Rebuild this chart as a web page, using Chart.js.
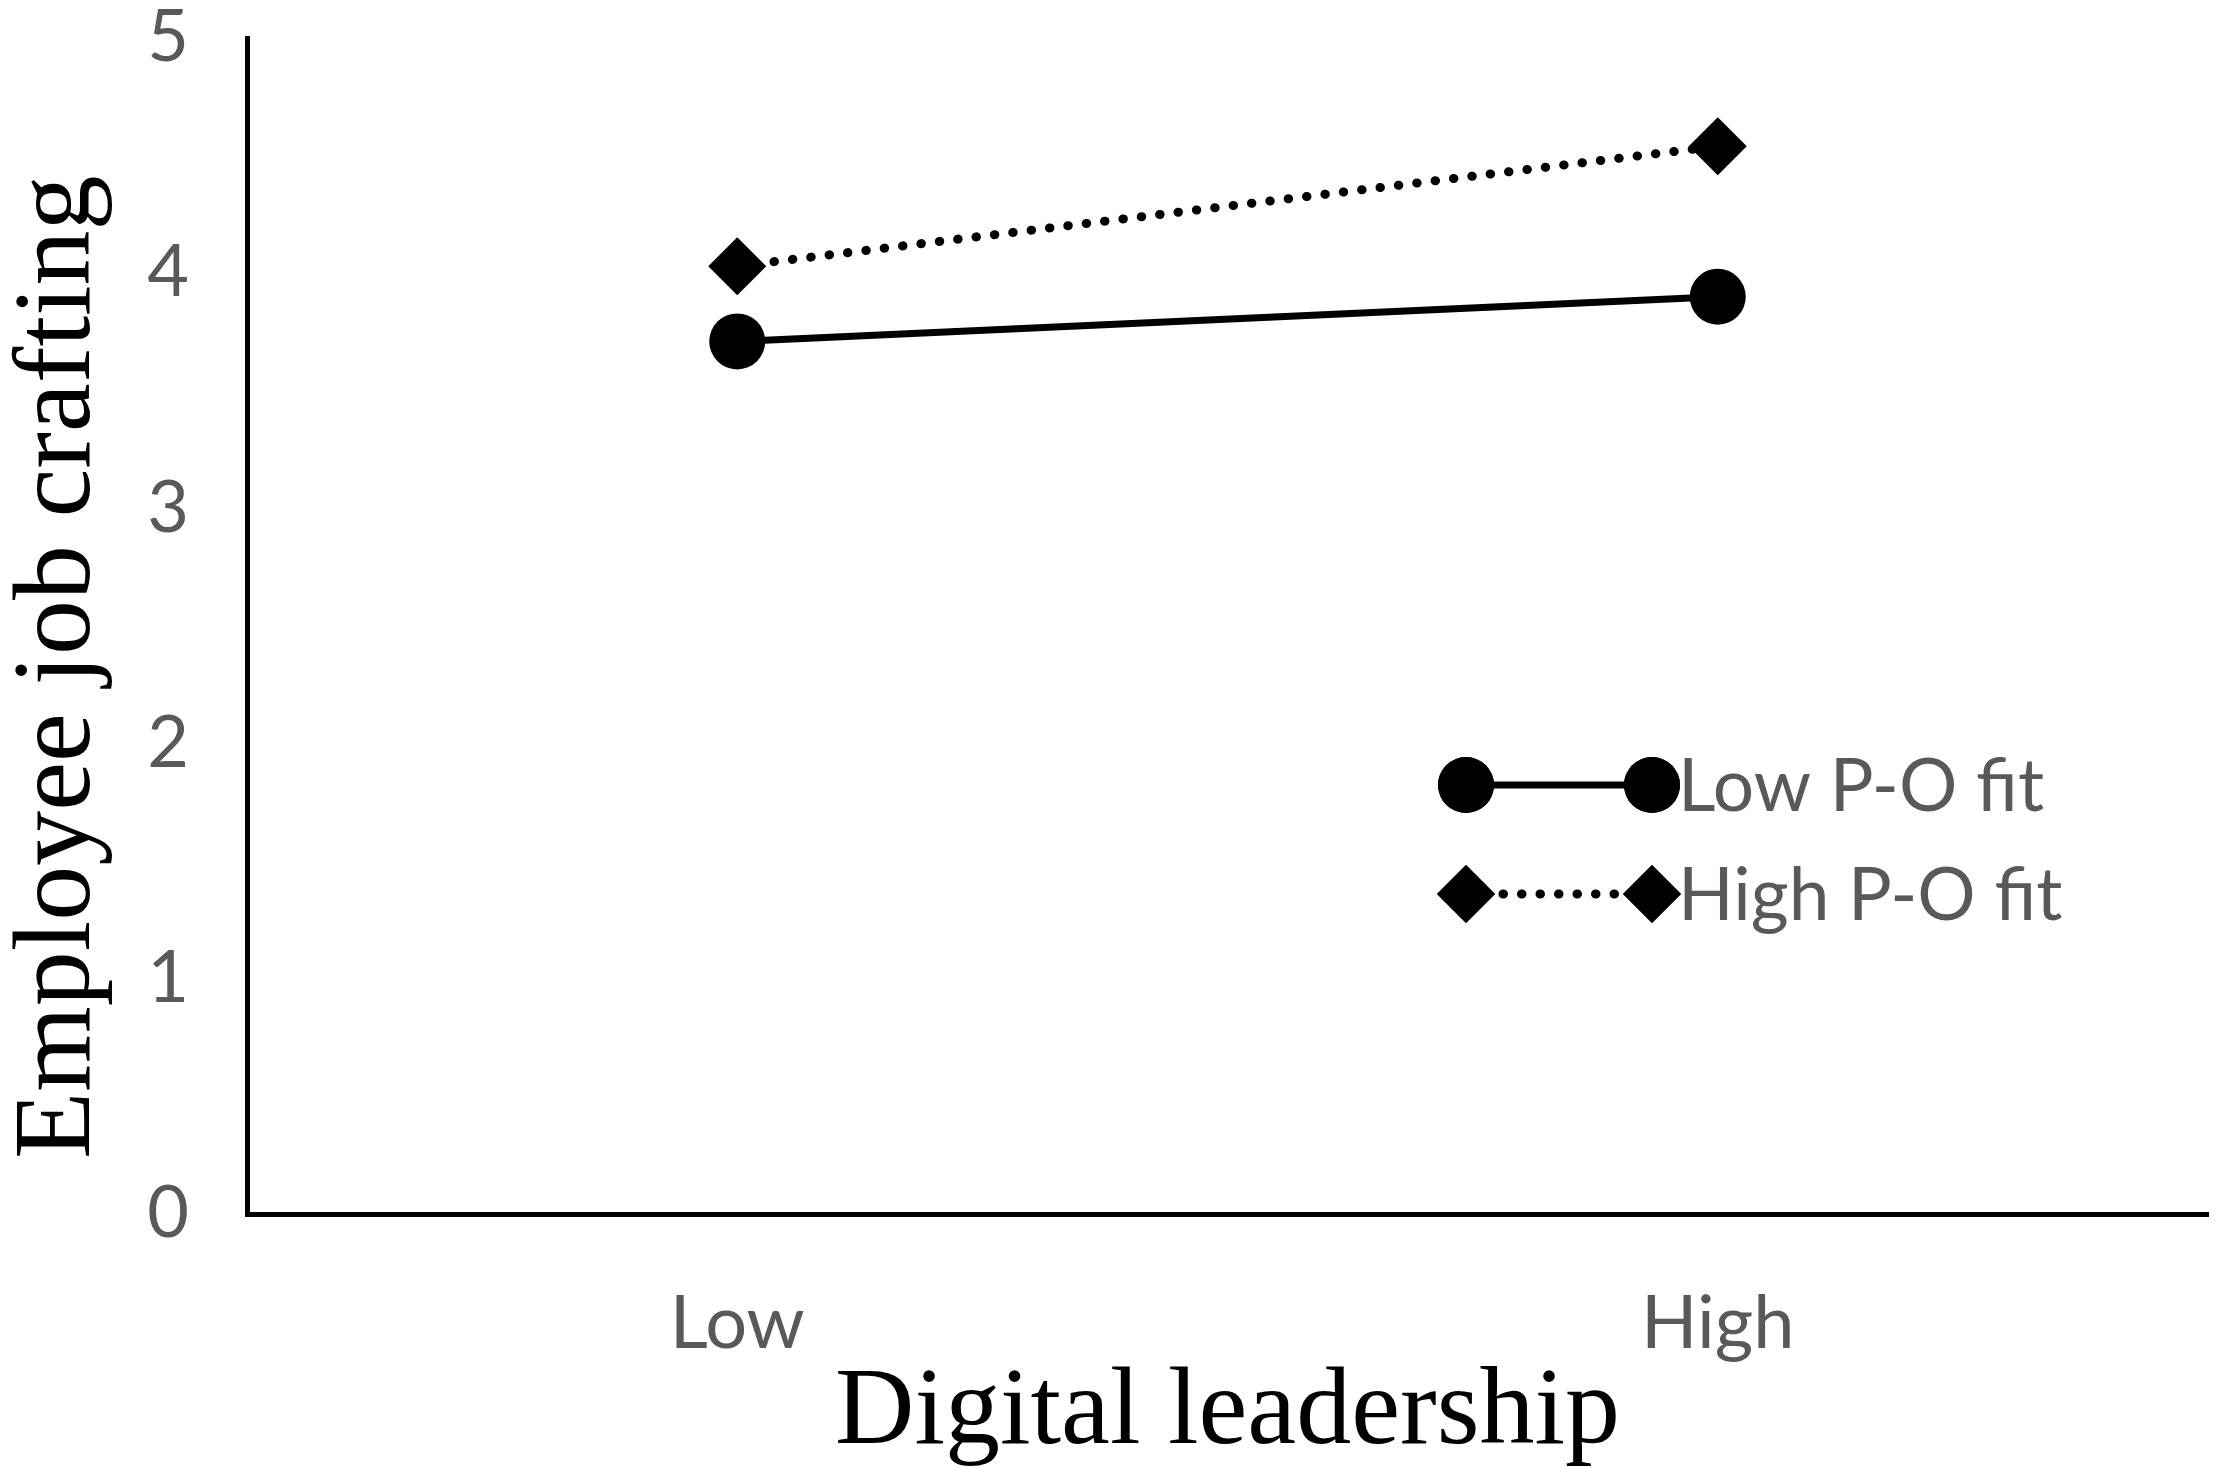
<!DOCTYPE html>
<html>
<head>
<meta charset="utf-8">
<script src="https://cdn.jsdelivr.net/npm/chart.js@4"></script>
<style>
  body { margin: 0; background: #fff; }
  canvas { display: block; }
</style>
</head>
<body>
<canvas id="myChart" width="2217" height="1468"></canvas>
<script>
const categories = ['Low', 'High'];
const seriesNames = ['Low P-O fit', 'High P-O fit'];
const lowFit = [3.71, 3.90];
const highFit = [4.03, 4.54];
const yMin = 0;
const yMax = 5;
const yStep = 1;

const TICK_GREY = '#595959';

// legend drawn by hand: a short line with a marker at each end, then the name
const legendPlugin = {
  id: 'lineLegend',
  afterDraw(chart) {
    const ctx = chart.ctx;
    const rows = [785, 894];
    const x1 = 1466, x2 = 1652, textX = 1678;
    chart.data.datasets.forEach((ds, i) => {
      const y = rows[i];
      ctx.save();
      ctx.strokeStyle = ds.borderColor;
      ctx.lineWidth = ds.borderWidth;
      ctx.lineCap = ds.borderCapStyle || 'butt';
      ctx.setLineDash(ds.borderDash || []);
      ctx.beginPath();
      ctx.moveTo(x1, y);
      ctx.lineTo(x2, y);
      ctx.stroke();
      ctx.setLineDash([]);
      [x1, x2].forEach(x => {
        Chart.helpers.drawPoint(ctx, {
          pointStyle: ds.pointStyle,
          radius: ds.pointRadius,
          borderWidth: 0
        }, x, y);
        ctx.fillStyle = ds.pointBackgroundColor;
        ctx.fill();
      });
      ctx.fillStyle = TICK_GREY;
      ctx.font = '73px Lato';
      ctx.textBaseline = 'middle';
      ctx.fillText(ds.label, textX, y + 2);
      ctx.restore();
    });
  }
};

const config = {
  type: 'line',
  data: {
    labels: categories,
    datasets: [
      {
        label: seriesNames[0],
        data: lowFit,
        borderColor: '#000',
        borderWidth: 7,
        pointStyle: 'circle',
        pointRadius: 28,
        pointBackgroundColor: '#000',
        pointBorderWidth: 0
      },
      {
        label: seriesNames[1],
        data: highFit,
        borderColor: '#000',
        borderWidth: 9,
        borderDash: [0.5, 18],
        borderCapStyle: 'round',
        pointStyle: 'rectRot',
        pointRadius: 29,
        pointBackgroundColor: '#000',
        pointBorderWidth: 0
      }
    ]
  },
  options: {
    responsive: false,
    animation: false,
    layout: { autoPadding: false, padding: { top: 38, right: 9, left: 0, bottom: 0 } },
    plugins: {
      legend: { display: false },
      tooltip: { enabled: false }
    },
    scales: {
      x: {
        offset: true,
        grid: { display: false, drawTicks: false },
        border: { display: true, color: '#000', width: 5 },
        ticks: {
          color: TICK_GREY,
          font: { family: 'Lato', size: 74 },
          padding: 66
        },
        title: {
          display: true,
          text: 'Digital leadership',
          color: '#000',
          font: { family: 'Liberation Serif', size: 110 },
          padding: { top: 0, bottom: -12 }
        },
        afterFit(scale) {
          scale.height = 254;
          scale.paddingLeft = 0;
          scale.paddingRight = 0;
        }
      },
      y: {
        min: yMin,
        max: yMax,
        grid: { display: false, drawTicks: false },
        border: { display: true, color: '#000', width: 5 },
        ticks: {
          stepSize: yStep,
          color: TICK_GREY,
          font: { family: 'Lato', size: 72 },
          padding: 58
        },
        title: {
          display: true,
          // trailing no-break spaces nudge the rotated title a little lower
          text: 'Employee job crafting\u00a0\u00a0\u00a0',
          color: '#000',
          font: { family: 'Liberation Serif', size: 110 },
          padding: { top: -6, bottom: 0 }
        },
        afterFit(scale) {
          scale.width = 247;
          scale.paddingTop = 0;
          scale.paddingBottom = 0;
        }
      }
    }
  },
  plugins: [legendPlugin]
};

const myChart = new Chart(document.getElementById('myChart'), config);
</script>
</body>
</html>
